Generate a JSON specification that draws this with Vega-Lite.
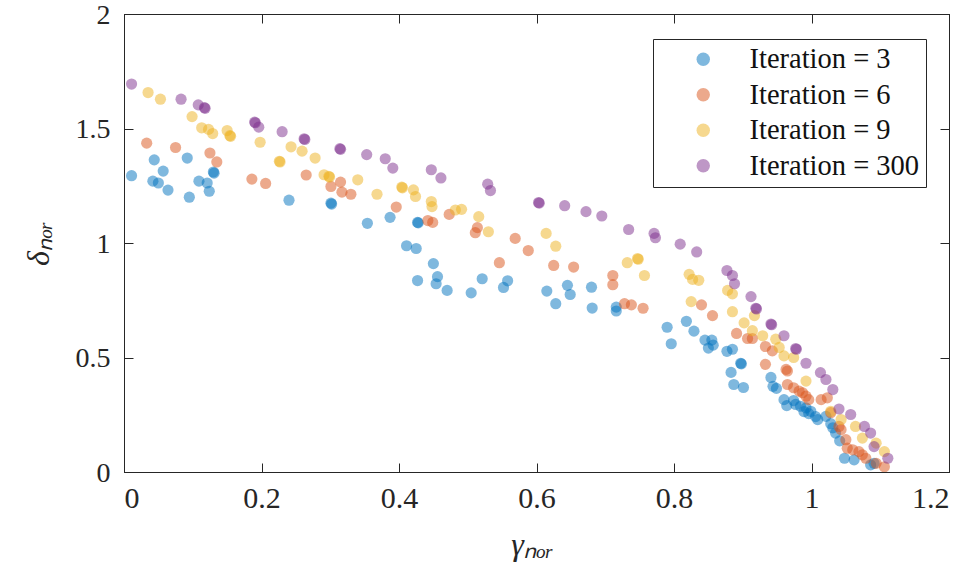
{
  "$schema": "https://vega.github.io/schema/vega-lite/v6.json",
  "width": 825,
  "height": 458,
  "autosize": {"type": "none"},
  "padding": {"left": 124, "top": 14, "right": 24, "bottom": 108},
  "background": "white",
  "config": {
    "view": {"stroke": "#262626", "strokeWidth": 1},
    "axis": {"grid": false, "labelColor": "#262626", "titleColor": "#262626", "labelFont": "Liberation Serif", "titleFont": "Liberation Serif", "titleFontWeight": "normal"}
  },
  "data": {"values": [
    {"s":"Iteration = 3","x":0.011,"y":1.294},{"s":"Iteration = 3","x":0.044,"y":1.363},{"s":"Iteration = 3","x":0.057,"y":1.314},{"s":"Iteration = 3","x":0.042,"y":1.270},{"s":"Iteration = 3","x":0.050,"y":1.262},{"s":"Iteration = 3","x":0.064,"y":1.231},{"s":"Iteration = 3","x":0.092,"y":1.371},{"s":"Iteration = 3","x":0.095,"y":1.200},{"s":"Iteration = 3","x":0.109,"y":1.270},{"s":"Iteration = 3","x":0.121,"y":1.262},{"s":"Iteration = 3","x":0.124,"y":1.226},{"s":"Iteration = 3","x":0.130,"y":1.310},{"s":"Iteration = 3","x":0.131,"y":1.305},{"s":"Iteration = 3","x":0.240,"y":1.187},{"s":"Iteration = 3","x":0.301,"y":1.174},{"s":"Iteration = 3","x":0.302,"y":1.170},{"s":"Iteration = 3","x":0.354,"y":1.086},{"s":"Iteration = 3","x":0.387,"y":1.112},{"s":"Iteration = 3","x":0.427,"y":1.090},{"s":"Iteration = 3","x":0.428,"y":1.088},{"s":"Iteration = 3","x":0.411,"y":0.988},{"s":"Iteration = 3","x":0.425,"y":0.976},{"s":"Iteration = 3","x":0.450,"y":0.910},{"s":"Iteration = 3","x":0.427,"y":0.836},{"s":"Iteration = 3","x":0.456,"y":0.853},{"s":"Iteration = 3","x":0.454,"y":0.822},{"s":"Iteration = 3","x":0.470,"y":0.793},{"s":"Iteration = 3","x":0.505,"y":0.782},{"s":"Iteration = 3","x":0.521,"y":0.844},{"s":"Iteration = 3","x":0.558,"y":0.835},{"s":"Iteration = 3","x":0.552,"y":0.806},{"s":"Iteration = 3","x":0.615,"y":0.790},{"s":"Iteration = 3","x":0.628,"y":0.735},{"s":"Iteration = 3","x":0.645,"y":0.815},{"s":"Iteration = 3","x":0.649,"y":0.775},{"s":"Iteration = 3","x":0.680,"y":0.807},{"s":"Iteration = 3","x":0.681,"y":0.716},{"s":"Iteration = 3","x":0.716,"y":0.720},{"s":"Iteration = 3","x":0.716,"y":0.703},{"s":"Iteration = 3","x":0.790,"y":0.632},{"s":"Iteration = 3","x":0.818,"y":0.658},{"s":"Iteration = 3","x":0.829,"y":0.615},{"s":"Iteration = 3","x":0.796,"y":0.560},{"s":"Iteration = 3","x":0.845,"y":0.576},{"s":"Iteration = 3","x":0.855,"y":0.576},{"s":"Iteration = 3","x":0.850,"y":0.541},{"s":"Iteration = 3","x":0.857,"y":0.554},{"s":"Iteration = 3","x":0.877,"y":0.527},{"s":"Iteration = 3","x":0.885,"y":0.536},{"s":"Iteration = 3","x":0.897,"y":0.475},{"s":"Iteration = 3","x":0.898,"y":0.472},{"s":"Iteration = 3","x":0.883,"y":0.435},{"s":"Iteration = 3","x":0.887,"y":0.382},{"s":"Iteration = 3","x":0.901,"y":0.369},{"s":"Iteration = 3","x":0.941,"y":0.413},{"s":"Iteration = 3","x":0.944,"y":0.374},{"s":"Iteration = 3","x":0.949,"y":0.365},{"s":"Iteration = 3","x":0.960,"y":0.316},{"s":"Iteration = 3","x":0.964,"y":0.290},{"s":"Iteration = 3","x":0.974,"y":0.312},{"s":"Iteration = 3","x":0.977,"y":0.295},{"s":"Iteration = 3","x":0.984,"y":0.287},{"s":"Iteration = 3","x":0.989,"y":0.264},{"s":"Iteration = 3","x":0.992,"y":0.280},{"s":"Iteration = 3","x":0.996,"y":0.255},{"s":"Iteration = 3","x":0.999,"y":0.265},{"s":"Iteration = 3","x":1.006,"y":0.242},{"s":"Iteration = 3","x":1.009,"y":0.229},{"s":"Iteration = 3","x":1.021,"y":0.243},{"s":"Iteration = 3","x":1.028,"y":0.211},{"s":"Iteration = 3","x":1.031,"y":0.193},{"s":"Iteration = 3","x":1.035,"y":0.170},{"s":"Iteration = 3","x":1.041,"y":0.136},{"s":"Iteration = 3","x":1.048,"y":0.060},{"s":"Iteration = 3","x":1.062,"y":0.053},{"s":"Iteration = 3","x":1.086,"y":0.031},{"s":"Iteration = 3","x":1.091,"y":0.038},
    {"s":"Iteration = 6","x":0.033,"y":1.436},{"s":"Iteration = 6","x":0.075,"y":1.417},{"s":"Iteration = 6","x":0.125,"y":1.393},{"s":"Iteration = 6","x":0.135,"y":1.354},{"s":"Iteration = 6","x":0.186,"y":1.279},{"s":"Iteration = 6","x":0.206,"y":1.260},{"s":"Iteration = 6","x":0.265,"y":1.297},{"s":"Iteration = 6","x":0.301,"y":1.247},{"s":"Iteration = 6","x":0.315,"y":1.266},{"s":"Iteration = 6","x":0.317,"y":1.222},{"s":"Iteration = 6","x":0.330,"y":1.213},{"s":"Iteration = 6","x":0.396,"y":1.157},{"s":"Iteration = 6","x":0.442,"y":1.098},{"s":"Iteration = 6","x":0.449,"y":1.090},{"s":"Iteration = 6","x":0.473,"y":1.125},{"s":"Iteration = 6","x":0.514,"y":1.067},{"s":"Iteration = 6","x":0.511,"y":1.045},{"s":"Iteration = 6","x":0.569,"y":1.020},{"s":"Iteration = 6","x":0.588,"y":0.967},{"s":"Iteration = 6","x":0.546,"y":0.914},{"s":"Iteration = 6","x":0.625,"y":0.902},{"s":"Iteration = 6","x":0.654,"y":0.895},{"s":"Iteration = 6","x":0.711,"y":0.858},{"s":"Iteration = 6","x":0.711,"y":0.818},{"s":"Iteration = 6","x":0.728,"y":0.735},{"s":"Iteration = 6","x":0.738,"y":0.730},{"s":"Iteration = 6","x":0.755,"y":0.715},{"s":"Iteration = 6","x":0.840,"y":0.730},{"s":"Iteration = 6","x":0.856,"y":0.683},{"s":"Iteration = 6","x":0.891,"y":0.605},{"s":"Iteration = 6","x":0.907,"y":0.583},{"s":"Iteration = 6","x":0.914,"y":0.583},{"s":"Iteration = 6","x":0.933,"y":0.548},{"s":"Iteration = 6","x":0.943,"y":0.529},{"s":"Iteration = 6","x":0.933,"y":0.470},{"s":"Iteration = 6","x":0.963,"y":0.448},{"s":"Iteration = 6","x":0.965,"y":0.441},{"s":"Iteration = 6","x":0.965,"y":0.382},{"s":"Iteration = 6","x":0.974,"y":0.368},{"s":"Iteration = 6","x":0.982,"y":0.353},{"s":"Iteration = 6","x":0.987,"y":0.346},{"s":"Iteration = 6","x":0.992,"y":0.331},{"s":"Iteration = 6","x":0.996,"y":0.316},{"s":"Iteration = 6","x":1.014,"y":0.316},{"s":"Iteration = 6","x":1.023,"y":0.324},{"s":"Iteration = 6","x":1.028,"y":0.259},{"s":"Iteration = 6","x":1.040,"y":0.199},{"s":"Iteration = 6","x":1.043,"y":0.185},{"s":"Iteration = 6","x":1.050,"y":0.141},{"s":"Iteration = 6","x":1.052,"y":0.104},{"s":"Iteration = 6","x":1.060,"y":0.097},{"s":"Iteration = 6","x":1.069,"y":0.089},{"s":"Iteration = 6","x":1.074,"y":0.075},{"s":"Iteration = 6","x":1.079,"y":0.060},{"s":"Iteration = 6","x":1.094,"y":0.038},{"s":"Iteration = 6","x":1.106,"y":0.023},
    {"s":"Iteration = 9","x":0.035,"y":1.657},{"s":"Iteration = 9","x":0.053,"y":1.628},{"s":"Iteration = 9","x":0.099,"y":1.552},{"s":"Iteration = 9","x":0.113,"y":1.503},{"s":"Iteration = 9","x":0.123,"y":1.496},{"s":"Iteration = 9","x":0.129,"y":1.478},{"s":"Iteration = 9","x":0.150,"y":1.491},{"s":"Iteration = 9","x":0.154,"y":1.469},{"s":"Iteration = 9","x":0.155,"y":1.466},{"s":"Iteration = 9","x":0.198,"y":1.440},{"s":"Iteration = 9","x":0.226,"y":1.357},{"s":"Iteration = 9","x":0.227,"y":1.354},{"s":"Iteration = 9","x":0.243,"y":1.420},{"s":"Iteration = 9","x":0.259,"y":1.401},{"s":"Iteration = 9","x":0.278,"y":1.371},{"s":"Iteration = 9","x":0.291,"y":1.298},{"s":"Iteration = 9","x":0.298,"y":1.291},{"s":"Iteration = 9","x":0.299,"y":1.288},{"s":"Iteration = 9","x":0.340,"y":1.276},{"s":"Iteration = 9","x":0.368,"y":1.213},{"s":"Iteration = 9","x":0.404,"y":1.244},{"s":"Iteration = 9","x":0.405,"y":1.241},{"s":"Iteration = 9","x":0.421,"y":1.232},{"s":"Iteration = 9","x":0.424,"y":1.203},{"s":"Iteration = 9","x":0.447,"y":1.181},{"s":"Iteration = 9","x":0.448,"y":1.159},{"s":"Iteration = 9","x":0.482,"y":1.144},{"s":"Iteration = 9","x":0.491,"y":1.147},{"s":"Iteration = 9","x":0.516,"y":1.115},{"s":"Iteration = 9","x":0.530,"y":1.049},{"s":"Iteration = 9","x":0.614,"y":1.042},{"s":"Iteration = 9","x":0.628,"y":0.986},{"s":"Iteration = 9","x":0.732,"y":0.914},{"s":"Iteration = 9","x":0.747,"y":0.932},{"s":"Iteration = 9","x":0.748,"y":0.929},{"s":"Iteration = 9","x":0.757,"y":0.858},{"s":"Iteration = 9","x":0.822,"y":0.863},{"s":"Iteration = 9","x":0.827,"y":0.841},{"s":"Iteration = 9","x":0.836,"y":0.837},{"s":"Iteration = 9","x":0.825,"y":0.744},{"s":"Iteration = 9","x":0.878,"y":0.793},{"s":"Iteration = 9","x":0.885,"y":0.778},{"s":"Iteration = 9","x":0.885,"y":0.700},{"s":"Iteration = 9","x":0.902,"y":0.651},{"s":"Iteration = 9","x":0.914,"y":0.617},{"s":"Iteration = 9","x":0.917,"y":0.683},{"s":"Iteration = 9","x":0.929,"y":0.595},{"s":"Iteration = 9","x":0.948,"y":0.580},{"s":"Iteration = 9","x":0.953,"y":0.544},{"s":"Iteration = 9","x":0.960,"y":0.507},{"s":"Iteration = 9","x":0.974,"y":0.500},{"s":"Iteration = 9","x":0.992,"y":0.397},{"s":"Iteration = 9","x":1.028,"y":0.265},{"s":"Iteration = 9","x":1.043,"y":0.229},{"s":"Iteration = 9","x":1.064,"y":0.199},{"s":"Iteration = 9","x":1.074,"y":0.148},{"s":"Iteration = 9","x":1.094,"y":0.126},{"s":"Iteration = 9","x":1.106,"y":0.089},
    {"s":"Iteration = 300","x":0.011,"y":1.694},{"s":"Iteration = 300","x":0.083,"y":1.628},{"s":"Iteration = 300","x":0.108,"y":1.603},{"s":"Iteration = 300","x":0.117,"y":1.591},{"s":"Iteration = 300","x":0.118,"y":1.588},{"s":"Iteration = 300","x":0.190,"y":1.528},{"s":"Iteration = 300","x":0.191,"y":1.525},{"s":"Iteration = 300","x":0.196,"y":1.506},{"s":"Iteration = 300","x":0.230,"y":1.486},{"s":"Iteration = 300","x":0.262,"y":1.455},{"s":"Iteration = 300","x":0.263,"y":1.452},{"s":"Iteration = 300","x":0.314,"y":1.412},{"s":"Iteration = 300","x":0.315,"y":1.409},{"s":"Iteration = 300","x":0.353,"y":1.386},{"s":"Iteration = 300","x":0.380,"y":1.368},{"s":"Iteration = 300","x":0.391,"y":1.327},{"s":"Iteration = 300","x":0.447,"y":1.320},{"s":"Iteration = 300","x":0.461,"y":1.284},{"s":"Iteration = 300","x":0.529,"y":1.257},{"s":"Iteration = 300","x":0.533,"y":1.229},{"s":"Iteration = 300","x":0.603,"y":1.177},{"s":"Iteration = 300","x":0.604,"y":1.174},{"s":"Iteration = 300","x":0.641,"y":1.163},{"s":"Iteration = 300","x":0.672,"y":1.137},{"s":"Iteration = 300","x":0.695,"y":1.118},{"s":"Iteration = 300","x":0.734,"y":1.059},{"s":"Iteration = 300","x":0.771,"y":1.042},{"s":"Iteration = 300","x":0.773,"y":1.023},{"s":"Iteration = 300","x":0.809,"y":0.995},{"s":"Iteration = 300","x":0.833,"y":0.961},{"s":"Iteration = 300","x":0.877,"y":0.880},{"s":"Iteration = 300","x":0.885,"y":0.858},{"s":"Iteration = 300","x":0.888,"y":0.822},{"s":"Iteration = 300","x":0.912,"y":0.766},{"s":"Iteration = 300","x":0.919,"y":0.715},{"s":"Iteration = 300","x":0.920,"y":0.712},{"s":"Iteration = 300","x":0.941,"y":0.646},{"s":"Iteration = 300","x":0.942,"y":0.643},{"s":"Iteration = 300","x":0.960,"y":0.595},{"s":"Iteration = 300","x":0.977,"y":0.539},{"s":"Iteration = 300","x":0.978,"y":0.536},{"s":"Iteration = 300","x":0.992,"y":0.475},{"s":"Iteration = 300","x":1.013,"y":0.434},{"s":"Iteration = 300","x":1.021,"y":0.404},{"s":"Iteration = 300","x":1.031,"y":0.360},{"s":"Iteration = 300","x":1.040,"y":0.275},{"s":"Iteration = 300","x":1.057,"y":0.251},{"s":"Iteration = 300","x":1.077,"y":0.199},{"s":"Iteration = 300","x":1.086,"y":0.170},{"s":"Iteration = 300","x":1.091,"y":0.111},{"s":"Iteration = 300","x":1.111,"y":0.060}
  ]},
  "layer": [
    {
      "mark": {"type": "point", "filled": true, "shape": "circle", "size": 125, "opacity": 0.5, "strokeWidth": 0},
      "encoding": {
        "x": {"field": "x", "type": "quantitative", "scale": {"domain": [0, 1.2], "nice": false, "zero": false},
          "axis": {"values": [0, 0.2, 0.4, 0.6, 0.8, 1, 1.2], "format": "~g", "domain": true, "domainColor": "#262626", "ticks": true, "tickSize": -9, "tickWidth": 1, "tickColor": "#262626", "zindex": 3, "labelPadding": 20, "labelFontSize": 30, "title": "γₙₒᵣ", "titleFontSize": 32, "titleFontStyle": "italic", "titleX": 408, "titleY": 72, "titleBaseline": "middle", "titleAnchor": "middle"}},
        "y": {"field": "y", "type": "quantitative", "scale": {"domain": [0, 2], "nice": false, "zero": false},
          "axis": {"values": [0, 0.5, 1, 1.5, 2], "format": "~g", "domain": true, "domainColor": "#262626", "ticks": true, "tickSize": -9, "tickWidth": 1, "tickColor": "#262626", "zindex": 3, "labelPadding": 23, "labelFontSize": 28, "labelOffset": 1, "title": "δₙₒᵣ", "titleFontSize": 32, "titleFontStyle": "italic", "titleX": -86, "titleY": 229, "titleAngle": -90, "titleBaseline": "middle", "titleAlign": "center"}},
        "color": {"field": "s", "type": "nominal", "scale": {"domain": ["Iteration = 3", "Iteration = 6", "Iteration = 9", "Iteration = 300"], "range": ["#0072BD", "#D95319", "#EDB120", "#7E2F8E"]},
          "legend": {"title": null, "orient": "none", "legendX": 529, "legendY": 25, "strokeColor": "#262626", "fillColor": "white", "padding": 6, "symbolOffset": 30, "labelOffset": 32, "labelFont": "Liberation Serif", "labelFontSize": 28.5, "labelColor": "#111111", "labelLimit": 400, "symbolSize": 180, "symbolType": "circle", "symbolOpacity": 0.5, "symbolStrokeWidth": 0, "rowPadding": 6.5}}
      }
    },
    {
      "mark": {"type": "point", "opacity": 0},
      "encoding": {
        "x": {"field": "x", "type": "quantitative", "scale": {"domain": [0, 1.2], "nice": false, "zero": false},
          "axis": {"orient": "top", "values": [0, 0.2, 0.4, 0.6, 0.8, 1, 1.2], "labels": false, "domain": true, "domainColor": "#262626", "ticks": true, "tickSize": -9, "tickWidth": 1, "tickColor": "#262626", "zindex": 3, "title": null}},
        "y": {"field": "y", "type": "quantitative", "scale": {"domain": [0, 2], "nice": false, "zero": false},
          "axis": {"orient": "right", "values": [0, 0.5, 1, 1.5, 2], "labels": false, "domain": true, "domainColor": "#262626", "ticks": true, "tickSize": -9, "tickWidth": 1, "tickColor": "#262626", "zindex": 3, "title": null}}
      }
    }
  ],
  "resolve": {"axis": {"x": "independent", "y": "independent"}}
}
